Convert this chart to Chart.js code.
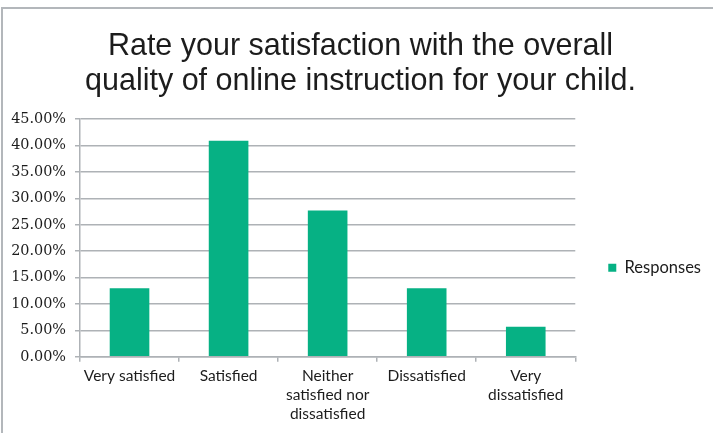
<!DOCTYPE html>
<html>
<head>
<meta charset="utf-8">
<script src="https://cdn.jsdelivr.net/npm/chart.js@4/dist/chart.umd.min.js"></script>
<style>
  html, body { margin: 0; padding: 0; background: #fff; }
  #wrap { position: relative; width: 713px; height: 433px; overflow: hidden; }
  #frame {
    position: absolute; left: 1px; top: 7px; right: -4px; bottom: -4px;
    border-top: 2px solid #b3b7bb; border-left: 2px solid #b3b7bb;
  }
  #c { position: absolute; left: 0; top: 0; }
</style>
</head>
<body>
<div id="wrap">
  <div id="frame"></div>
  <canvas id="c" width="713" height="433"></canvas>
</div>
<script>
  var titleLines = ['Rate your satisfaction with the overall', 'quality of online instruction for your child.'];
  var categories = [
    'Very satisfied',
    'Satisfied',
    ['Neither', 'satisfied nor', 'dissatisfied'],
    'Dissatisfied',
    ['Very', 'dissatisfied']
  ];
  var seriesName = 'Responses';
  var responses = [13.0, 40.9, 27.7, 13.0, 5.7];
  var yTicks = [0, 5, 10, 15, 20, 25, 30, 35, 40, 45];

  var barColor = '#06b184';
  var gridColor = '#aeb2b6';
  var ink = '#1c1c1c';
  var labelFont = 'Lato, sans-serif';

  new Chart(document.getElementById('c'), {
    type: 'bar',
    data: {
      labels: categories,
      datasets: [{
        label: seriesName,
        data: responses,
        backgroundColor: barColor,
        borderWidth: 0,
        categoryPercentage: 0.8,
        barPercentage: 0.5
      }]
    },
    options: {
      responsive: false,
      animation: false,
      devicePixelRatio: 1,
      layout: { padding: { left: 10, right: 2, top: 29, bottom: 4 } },
      plugins: {
        title: {
          display: true,
          text: titleLines,
          color: ink,
          font: { family: '"Liberation Sans", Arial, sans-serif', size: 30.5, weight: 'normal', lineHeight: 1.15 },
          padding: { top: 0, bottom: 20 }
        },
        legend: {
          position: 'right',
          // empty legend title only pushes the key down a bit, like the original
          title: { display: true, text: '', padding: { top: 0, bottom: 59 }, font: { size: 15.5 } },
          labels: {
            boxWidth: 8, boxHeight: 8, padding: 33,
            color: ink,
            font: { family: labelFont, size: 16.5 }
          }
        },
        tooltip: { enabled: false }
      },
      scales: {
        x: {
          grid: { drawOnChartArea: false, drawTicks: true, tickLength: 5, color: gridColor, lineWidth: 1.5, offset: true },
          border: { color: gridColor, width: 1.5 },
          ticks: { color: ink, font: { family: labelFont, size: 15.5, lineHeight: 1.23 }, padding: 5, maxRotation: 0, autoSkip: false }
        },
        y: {
          min: 0, max: 45,
          afterBuildTicks: function (axis) { axis.ticks = yTicks.map(function (v) { return { value: v }; }); },
          afterFit: function (axis) { axis.width = 70; },
          grid: { color: gridColor, lineWidth: 1.5, tickLength: 5 },
          border: { color: gridColor, width: 1.5 },
          ticks: {
            color: ink, padding: 9,
            font: { family: '"DejaVu Serif", serif', size: 14.4 },
            callback: function (v) { return v.toFixed(2) + '%'; }
          }
        }
      }
    }
  });
</script>
</body>
</html>
